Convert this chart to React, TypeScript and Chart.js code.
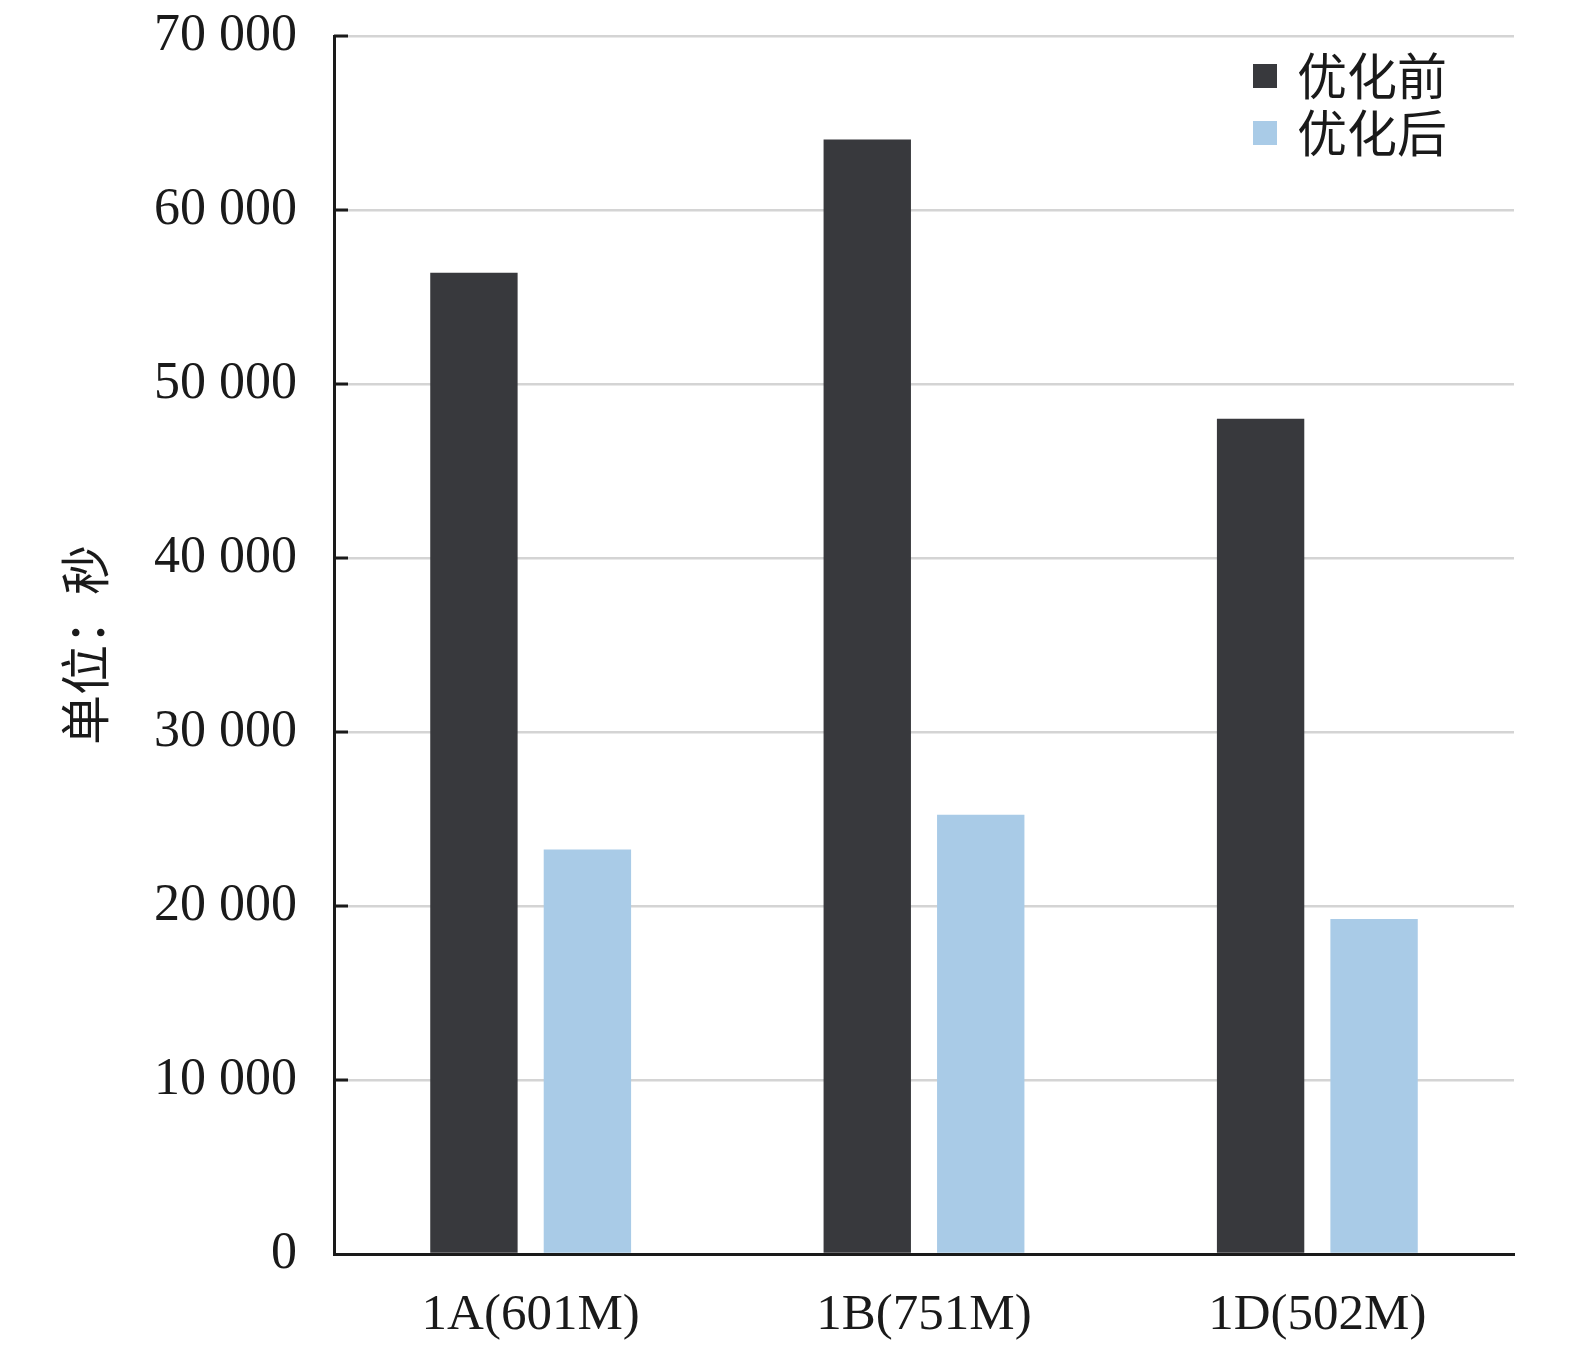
import React, { useEffect, useRef } from "react";
import { Chart, registerables } from "chart.js";

Chart.register(...registerables);

// categories and series
const categories = ["1A(601M)", "1B(751M)", "1D(502M)"];
const beforeValues = [56400, 64050, 48000];
const afterValues = [23250, 25250, 19250];
const seriesNames = ["优化前", "优化后"];
const yTicks = [0, 10000, 20000, 30000, 40000, 50000, 60000, 70000];

const darkColor = "#38393d";
const lightColor = "#a9cbe7";
const inkColor = "#1a1a1a";
const serif = "'Liberation Serif', 'Times New Roman', serif";
const cjk = "'Noto Sans CJK SC', sans-serif";

const fmt = (v: number) => String(v).replace(/\B(?=(\d{3})+(?!\d))/g, " ");

// short ticks drawn inside the plot, on the left axis
const innerTicks = {
  id: "innerTicks",
  afterDraw(chart: any) {
    const { ctx, chartArea, scales } = chart;
    const y = scales.y;
    ctx.save();
    ctx.strokeStyle = inkColor;
    ctx.lineWidth = 3;
    y.ticks.forEach((t: any) => {
      if (t.value === 0) return;
      const py = y.getPixelForValue(t.value);
      ctx.beginPath();
      ctx.moveTo(chartArea.left, py);
      ctx.lineTo(chartArea.left + 14, py);
      ctx.stroke();
    });
    ctx.restore();
  },
};

// legend sitting inside the plot, top right
const boxLegend = {
  id: "boxLegend",
  afterDraw(chart: any) {
    const { ctx, chartArea } = chart;
    const x0 = chartArea.right - 261;
    const y0 = chartArea.top + 40;
    ctx.save();
    ctx.font = `50px ${cjk}`;
    ctx.textBaseline = "middle";
    ctx.textAlign = "left";
    chart.data.datasets.forEach((ds: any, i: number) => {
      const cy = y0 + i * 57;
      ctx.fillStyle = ds.backgroundColor;
      ctx.fillRect(x0, cy - 12, 24, 24);
      ctx.fillStyle = inkColor;
      ctx.fillText(ds.label, x0 + 44, cy);
    });
    ctx.restore();
  },
};

const App: React.FC = () => {
  const canvasRef = useRef<HTMLCanvasElement>(null);

  useEffect(() => {
    if (!canvasRef.current) return;
    const chart = new Chart(canvasRef.current, {
      type: "bar",
      data: {
        labels: categories,
        datasets: [
          {
            label: seriesNames[0],
            data: beforeValues,
            backgroundColor: darkColor,
            categoryPercentage: 0.577,
            barPercentage: 0.77,
          },
          {
            label: seriesNames[1],
            data: afterValues,
            backgroundColor: lightColor,
            categoryPercentage: 0.577,
            barPercentage: 0.77,
          },
        ],
      },
      options: {
        responsive: false,
        animation: false,
        layout: { padding: { top: 36, right: 61, left: 0, bottom: 0 } },
        plugins: {
          legend: { display: false },
          tooltip: { enabled: false },
        },
        scales: {
          x: {
            grid: { display: false },
            border: { color: inkColor, width: 3 },
            ticks: {
              color: inkColor,
              font: { family: serif, size: 51 },
              padding: 23,
            },
            afterFit(scale: any) {
              scale.height = 96;
            },
          },
          y: {
            min: 0,
            max: 70000,
            afterBuildTicks(scale: any) {
              scale.ticks = yTicks.map((v) => ({ value: v }));
            },
            grid: { color: "#d4d4d4", lineWidth: 2.5, drawTicks: false },
            border: { color: inkColor, width: 3 },
            ticks: {
              color: inkColor,
              font: { family: serif, size: 52 },
              padding: 37,
              callback: (v: any) => fmt(Number(v)),
            },
            title: {
              display: true,
              text: "单位：秒",
              color: inkColor,
              font: { family: cjk, size: 50 },
              padding: { top: 55, bottom: 0 },
            },
            afterFit(scale: any) {
              scale.width = 334;
              scale.paddingTop = 0;
              scale.paddingBottom = 0;
            },
          },
        },
      },
      plugins: [innerTicks, boxLegend],
    });
    return () => chart.destroy();
  }, []);

  return (
    <div
      style={{
        position: "absolute",
        left: 0,
        top: 0,
        width: 1575,
        height: 1350,
        background: "#fff",
      }}
    >
      <canvas ref={canvasRef} width={1575} height={1350} style={{ display: "block" }} />
    </div>
  );
};

export default App;
